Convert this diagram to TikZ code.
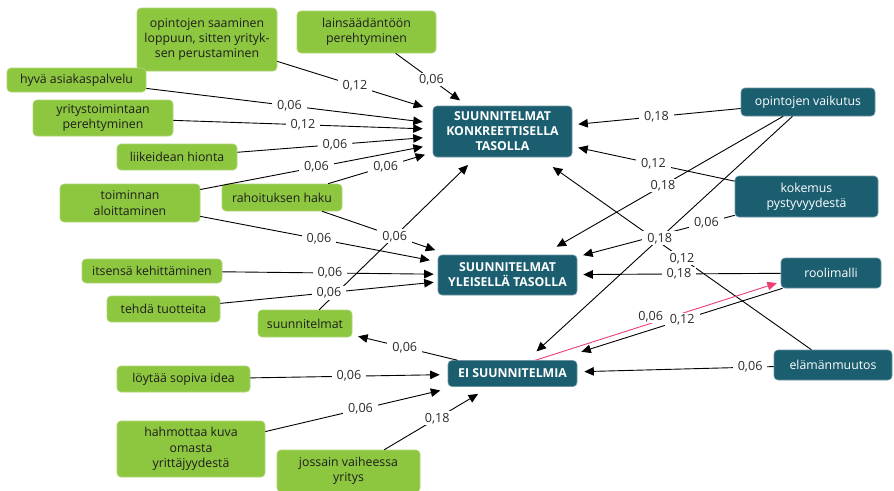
\documentclass[tikz,border=0pt]{standalone}
\usepackage{fontspec}
\setmainfont{Open Sans}
\usepackage{xcolor}
\usepackage{tikz}
\usetikzlibrary{arrows.meta}
\definecolor{leaf}{HTML}{8DC63F}
\definecolor{petrol}{HTML}{1B5E6F}
\definecolor{rose}{HTML}{EE3F72}
\definecolor{ink}{HTML}{1E1E1E}
\definecolor{numtext}{HTML}{2B2B2B}
\tikzset{
  box/.style={rectangle, rounded corners=4pt, align=center, inner xsep=4pt, inner ysep=3pt, line width=0.6pt},
  cause/.style={box, fill=leaf, draw=leaf!70!white, text=ink, font=\fontsize{12.3}{15.3}\selectfont},
  state/.style={box, fill=petrol, draw=petrol!65!white, text=white, font=\fontsize{12.3}{15}\selectfont\bfseries},
  factor/.style={box, fill=petrol, draw=petrol!65!white, text=white, font=\fontsize{12.3}{15.3}\selectfont},
  edge/.style={draw=black, line width=0.9pt, -{Triangle[length=9.5pt,width=8.5pt]}, shorten >=6pt},
  lbl/.style={fill=white, inner xsep=5pt, inner ysep=1.5pt, text=numtext, font=\fontsize{12.6}{14}\selectfont}
}

\begin{document}
\begin{tikzpicture}[x=1pt, y=-1pt]
  \useasboundingbox (0,0) rectangle (894,490);
  \fill[white] (0,0) rectangle (894,490);

  % left: green causes
  \node[cause, minimum width=140pt, minimum height=63pt] (saaminen) at (207,39.5) {opintojen saaminen\\loppuun, sitten yrityk-\\sen perustaminen};
  \node[cause, minimum width=139pt, minimum height=42pt] (lainsaadanto) at (366.5,32) {lainsäädäntöön\\perehtyminen};
  \node[cause, minimum width=139pt, minimum height=24pt] (asiakaspalvelu) at (76.5,80) {hyvä asiakaspalvelu};
  \node[cause, minimum width=140pt, minimum height=36pt] (yritystoiminta) at (103,118) {yritystoimintaan\\perehtyminen};
  \node[cause, minimum width=120pt, minimum height=26pt] (liikeidea) at (177,157) {liikeidean hionta};
  \node[cause, minimum width=140pt, minimum height=38pt] (aloittaminen) at (130,203) {toiminnan\\aloittaminen};
  \node[cause, minimum width=120pt, minimum height=27pt] (rahoitus) at (282,197.5) {rahoituksen haku};
  \node[cause, minimum width=140pt, minimum height=24pt] (kehittaminen) at (152,271) {itsensä kehittäminen};
  \node[cause, minimum width=113pt, minimum height=26pt] (tuotteet) at (163.5,309) {tehdä tuotteita};
  \node[cause, minimum width=94pt, minimum height=27pt] (suunnitelmat) at (305,323.5) {suunnitelmat};
  \node[cause, minimum width=133pt, minimum height=26pt] (idea) at (183.5,379) {löytää sopiva idea};
  \node[cause, minimum width=148pt, minimum height=56pt] (kuva) at (191,449) {hahmottaa kuva\\omasta\\yrittäjyydestä};
  \node[cause, minimum width=143pt, minimum height=42pt] (jossain) at (348.5,471) {jossain vaiheessa\\yritys};

  % middle: plan states
  \node[state, minimum width=139pt, minimum height=51pt] (konkreetti) at (502.5,131.5) {SUUNNITELMAT\\KONKREETTISELLA\\TASOLLA};
  \node[state, minimum width=139pt, minimum height=40pt] (yleinen) at (507.5,275) {SUUNNITELMAT\\YLEISELLÄ TASOLLA};
  \node[state, minimum width=129pt, minimum height=26pt] (eisuunn) at (512.5,373.5) {EI SUUNNITELMIA};

  % right: factors
  \node[factor, minimum width=134pt, minimum height=28pt] (vaikutus) at (808,102) {opintojen vaikutus};
  \node[factor, minimum width=143pt, minimum height=41pt] (pystyvyys) at (806.5,196.5) {kokemus\\pystyvyydestä};
  \node[factor, minimum width=100pt, minimum height=30pt] (roolimalli) at (831,273) {roolimalli};
  \node[factor, minimum width=118pt, minimum height=30pt] (muutos) at (833,365) {elämänmuutos};

  % into konkreetti
  \draw[edge, shorten >=10pt] (saaminen) -- node[lbl]{0,12} (konkreetti);
  \draw[edge, shorten >=9pt] (lainsaadanto) -- node[lbl]{0,06} (konkreetti);
  \draw[edge, shorten >=10pt] (asiakaspalvelu) -- node[lbl]{0,06} (konkreetti);
  \draw[edge, shorten >=10pt] (yritystoiminta) -- node[lbl]{0,12} (konkreetti);
  \draw[edge, shorten >=10pt] (liikeidea) -- node[lbl]{0,06} (konkreetti);
  \draw[edge, shorten >=10pt] (aloittaminen) -- node[lbl]{0,06} (konkreetti);
  \draw[edge, shorten >=8pt] (rahoitus) -- node[lbl, pos=.55]{0,06} (konkreetti);
  \draw[edge, shorten >=11pt] (suunnitelmat) -- node[lbl, pos=.482]{0,06} (konkreetti);
  \draw[edge] (vaikutus) -- node[lbl]{0,18} (konkreetti);
  \draw[edge] (pystyvyys) -- node[lbl]{0,12} (konkreetti);
  \draw[edge, shorten >=17pt] (muutos) -- node[lbl, pos=.475]{0,12} (konkreetti);

  % into yleinen
  \draw[edge, shorten >=8pt] (aloittaminen) -- node[lbl]{0,06} (yleinen);
  \draw[edge, shorten >=14pt] (rahoitus) -- node[lbl, pos=.575]{0,06} (yleinen);
  \draw[edge, shorten >=4pt] (kehittaminen) -- node[lbl]{0,06} (yleinen);
  \draw[edge, shorten >=4pt] (tuotteet) -- node[lbl]{0,06} (yleinen);
  \draw[edge, shorten >=16pt] (vaikutus) -- node[lbl]{0,18} (yleinen);
  \draw[edge] (pystyvyys) -- node[lbl, pos=.18]{0,06} (yleinen);
  \draw[edge] (roolimalli) -- node[lbl]{0,18} (yleinen);

  % into and out of eisuunn
  \draw[edge, shorten >=8pt] (idea) -- node[lbl]{0,06} (eisuunn);
  \draw[edge, shorten >=16pt] (kuva) -- node[lbl]{0,06} (eisuunn);
  \draw[edge, shorten >=14pt] (jossain) -- node[lbl]{0,18} (eisuunn);
  \draw[edge, shorten >=13pt] (vaikutus) -- node[lbl]{0,18} (eisuunn);
  \draw[edge, draw=rose, shorten >=4pt] (eisuunn.30) -- node[lbl, pos=.47, yshift=7pt]{0,06} (roolimalli.190);
  \draw[edge, shorten >=28pt] (roolimalli) -- node[lbl, pos=.44]{0,12} (eisuunn);
  \draw[edge, shorten >=7pt] (muutos) -- node[lbl, pos=.12]{0,06} (eisuunn);
  \draw[edge] (eisuunn) -- node[lbl]{0,06} (suunnitelmat);
\end{tikzpicture}
\end{document}
